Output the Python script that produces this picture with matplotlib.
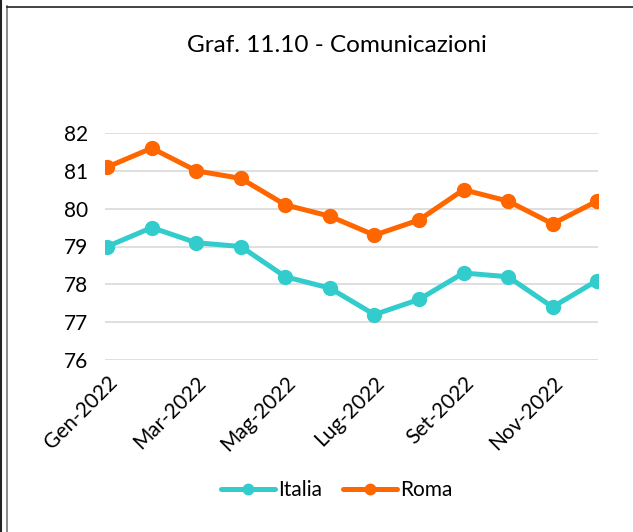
import matplotlib
matplotlib.use("Agg")
import matplotlib.pyplot as plt
from matplotlib.lines import Line2D

months = ["Gen-2022", "Feb-2022", "Mar-2022", "Apr-2022", "Mag-2022", "Giu-2022",
          "Lug-2022", "Ago-2022", "Set-2022", "Ott-2022", "Nov-2022", "Dic-2022"]
italia = [79.0, 79.5, 79.1, 79.0, 78.2, 77.9, 77.2, 77.6, 78.3, 78.2, 77.4, 78.1]
roma = [81.1, 81.6, 81.0, 80.8, 80.1, 79.8, 79.3, 79.7, 80.5, 80.2, 79.6, 80.2]
yticks = [76, 77, 78, 79, 80, 81, 82]

plt.rcParams['font.family'] = ['Lato', 'DejaVu Sans']

W, H = 633, 532
fig = plt.figure(figsize=(W / 100, H / 100), dpi=100)
ax = fig.add_axes([105 / W, 1 - 360 / H, (598 - 105) / W, (360 - 133) / H])

x = list(range(len(months)))
ax.plot(x, italia, color="#33CCCC", lw=3.6, marker="o", ms=10, label="Italia",
        solid_capstyle="round", zorder=3)
ax.plot(x, roma, color="#FF6600", lw=3.6, marker="o", ms=10, label="Roma",
        solid_capstyle="round", zorder=3)

ax.set_xlim(-0.05, len(months) - 1 + 0.02)
ax.set_ylim(76, 82)
ax.set_yticks(yticks)
ax.set_yticklabels([str(v) for v in yticks], fontsize=15)
ax.grid(axis="y", color="#D9D9D9", lw=1.2)
ax.set_axisbelow(True)
for s in ax.spines.values():
    s.set_visible(False)
ax.tick_params(axis="both", length=0)
ax.tick_params(axis="y", pad=12)

ax.set_xticks(x[::2])
ax.set_xticklabels(months[::2], rotation=45, ha="right", rotation_mode="anchor", fontsize=15)
ax.tick_params(axis="x", pad=9)

fig.text(337 / W, 1 - 45 / H, "Graf. 11.10 - Comunicazioni", ha="center", va="center", fontsize=17.5)

leg = fig.legend(loc="center", bbox_to_anchor=(337 / W, 1 - 490 / H), ncol=2, frameon=False,
                 fontsize=15, handlelength=2.6, handletextpad=0.15, columnspacing=1.0,
                 markerscale=0.75)

# outer frame lines (cropped chart border)
fig.add_artist(Line2D([1 / W, 1 / W], [0, 1], color="#222222", lw=1.5))
fig.add_artist(Line2D([7.5 / W, 7.5 / W], [0, 1 - 6 / H], color="#777777", lw=1.2))
fig.add_artist(Line2D([7 / W, 1], [1 - 6.5 / H, 1 - 6.5 / H], color="#222222", lw=1.2))

fig.savefig("out.png", dpi=100)
